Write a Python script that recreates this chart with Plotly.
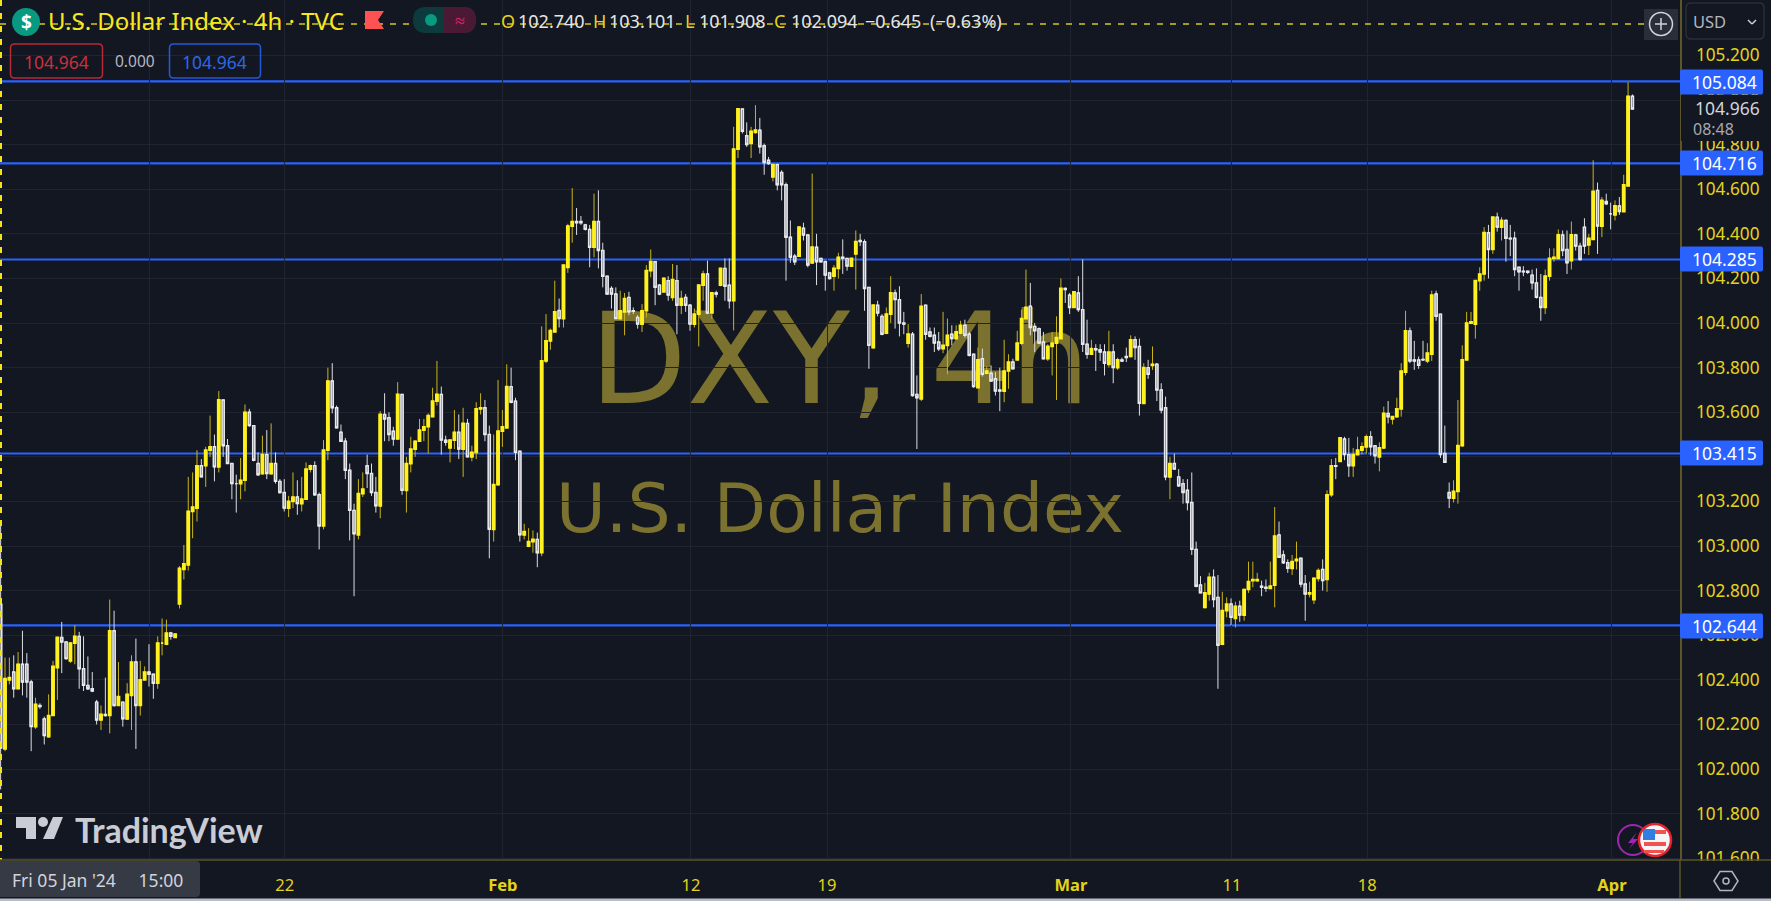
import plotly.graph_objects as go

open_ = [102.74,
102.09,102.40,102.435,102.36,102.47,102.47,102.39,102.19,102.285,102.225,
102.145,102.24,102.455,102.59,102.57,102.485,102.565,102.595,102.45,102.375,
102.36,102.30,102.22,102.245,102.24,102.62,102.285,102.30,102.225,102.33,
102.48,102.285,102.40,102.435,102.425,102.385,102.565,102.56,102.61,102.59,
102.74,102.895,102.915,103.155,103.17,103.36,103.36,103.43,103.445,103.355,
103.655,103.45,103.37,103.28,103.28,103.295,103.60,103.54,103.37,103.325,
103.41,103.325,103.37,103.29,103.24,103.17,103.20,103.22,103.19,103.21,
103.345,103.36,103.23,103.09,103.43,103.74,103.62,103.51,103.47,103.34,
103.16,103.05,103.235,103.36,103.325,103.24,103.18,103.59,103.575,103.515,
103.48,103.68,103.25,103.37,103.435,103.47,103.52,103.535,103.58,103.65,
103.68,103.475,103.44,103.475,103.51,103.435,103.55,103.40,103.42,103.615,
103.62,103.50,103.075,103.275,103.515,103.53,103.715,103.65,103.425,103.05,
103.0,103.02,103.03,102.97,103.83,103.92,103.96,104.056,104.02,104.25,
104.435,104.455,104.455,104.44,104.42,104.34,104.455,104.325,104.21,104.155,
104.13,104.02,104.05,104.115,104.055,104.025,103.995,104.055,104.235,104.275,
104.17,104.14,104.19,104.115,104.19,104.08,104.115,104.08,103.995,104.04,
104.17,104.22,104.045,104.135,104.17,104.245,104.17,104.10,104.78,104.96,
104.84,104.805,104.855,104.865,104.795,104.73,104.655,104.71,104.675,104.62,
104.385,104.30,104.30,104.425,104.395,104.27,104.34,104.29,104.275,104.225,
104.21,104.245,104.295,104.29,104.255,104.31,104.37,104.365,104.16,103.89,
104.08,104.03,103.955,104.04,104.135,104.105,104.0,103.91,103.95,103.68,
103.66,104.08,103.96,103.945,103.915,103.885,103.90,103.95,103.93,103.955,
103.99,103.95,103.86,103.71,103.84,103.775,103.775,103.75,103.70,103.695,
103.785,103.825,103.835,103.91,104.02,104.075,103.985,103.975,103.915,103.84,
103.895,103.91,103.93,104.155,104.125,104.07,104.135,104.06,103.905,103.86,
103.885,103.88,103.87,103.815,103.87,103.80,103.835,103.85,103.85,103.925,
103.895,103.64,103.80,103.81,103.815,103.70,103.62,103.31,103.37,103.31,
103.28,103.25,103.195,102.985,102.825,102.725,102.785,102.86,102.77,102.56,
102.71,102.74,102.675,102.73,102.69,102.805,102.845,102.845,102.82,102.815,
102.81,102.825,103.05,102.96,102.925,102.90,102.935,102.945,102.83,102.785,
102.76,102.855,102.895,102.85,103.23,103.36,103.38,103.48,103.41,103.36,
103.41,103.43,103.445,103.49,103.45,103.40,103.44,103.595,103.57,103.58,
103.615,103.78,103.965,103.835,103.835,103.837,103.83,103.86,104.13,104.04,
103.415,103.24,103.215,103.245,103.45,103.835,104.0,103.995,104.19,104.22,
104.405,104.33,104.475,104.43,104.46,104.38,104.38,104.25,104.232,104.232,
104.215,104.18,104.115,104.07,104.21,104.29,104.29,104.395,104.33,104.28,
104.395,104.345,104.43,104.35,104.375,104.595,104.435,104.545,104.49,104.485,
104.525,104.50,104.615,105.017]

high_ = [103.101,
102.50,102.50,102.51,102.525,102.62,102.52,102.40,102.32,102.295,102.235,
102.335,102.485,102.59,102.66,102.57,102.57,102.645,102.615,102.595,102.505,
102.435,102.31,102.285,102.41,102.76,102.71,102.48,102.30,102.385,102.51,
102.585,102.485,102.46,102.56,102.425,102.595,102.675,102.67,102.615,102.61,
102.91,103.005,103.31,103.33,103.43,103.39,103.445,103.585,103.50,103.695,
103.655,103.48,103.37,103.32,103.395,103.635,103.615,103.54,103.42,103.495,
103.52,103.55,103.42,103.30,103.30,103.225,103.33,103.295,103.31,103.375,
103.365,103.38,103.24,103.475,103.80,103.82,103.63,103.545,103.485,103.37,
103.19,103.30,103.33,103.41,103.37,103.31,103.605,103.685,103.60,103.535,
103.735,103.68,103.40,103.49,103.475,103.57,103.57,103.595,103.71,103.83,
103.715,103.495,103.48,103.61,103.59,103.62,103.57,103.45,103.645,103.685,
103.655,103.54,103.50,103.745,103.61,103.815,103.80,103.665,103.425,103.10,
103.08,103.07,103.06,103.985,104.04,103.975,104.19,104.11,104.26,104.445,
104.605,104.516,104.48,104.445,104.44,104.58,104.595,104.36,104.21,104.165,
104.16,104.145,104.135,104.14,104.07,104.035,104.085,104.26,104.33,104.275,
104.175,104.205,104.21,104.265,104.26,104.145,104.13,104.085,104.065,104.175,
104.235,104.28,104.14,104.145,104.245,104.29,104.29,104.88,104.96,104.96,
104.90,104.88,104.977,104.92,104.805,104.745,104.71,104.715,104.685,104.63,
104.46,104.31,104.435,104.45,104.395,104.67,104.40,104.29,104.28,104.23,
104.26,104.315,104.375,104.29,104.29,104.415,104.40,104.375,104.16,104.08,
104.10,104.04,104.07,104.21,104.15,104.165,104.05,103.995,103.96,103.765,
104.13,104.08,103.98,103.98,103.96,104.05,104.02,103.99,103.99,104.01,
104.015,103.96,103.86,103.89,103.885,103.805,103.81,103.78,103.80,103.925,
103.86,103.84,103.965,104.06,104.24,104.18,104.0,103.98,103.96,103.905,
103.96,104.03,104.2,104.16,104.135,104.14,104.21,104.285,104.015,103.925,
103.905,103.905,103.905,103.965,103.905,103.845,103.845,103.89,103.945,103.94,
103.93,103.82,103.835,103.895,103.82,103.73,103.67,103.40,103.415,103.345,
103.30,103.30,103.33,103.02,102.865,102.835,102.88,102.895,102.87,102.795,
102.77,102.765,102.75,102.755,102.81,102.93,102.93,102.88,102.845,102.85,
102.93,103.175,103.11,102.98,102.94,102.96,103.02,102.945,102.87,102.84,
102.86,102.90,102.94,103.25,103.39,103.395,103.485,103.49,103.485,103.44,
103.49,103.465,103.50,103.515,103.45,103.465,103.625,103.65,103.58,103.665,
103.82,104.055,103.98,103.92,103.85,103.92,103.91,104.145,104.145,104.04,
103.54,103.285,103.295,103.655,103.90,104.05,104.05,104.19,104.25,104.43,
104.44,104.475,104.495,104.475,104.465,104.44,104.41,104.25,104.255,104.235,
104.24,104.245,104.22,104.24,104.335,104.335,104.42,104.415,104.415,104.455,
104.40,104.36,104.47,104.40,104.73,104.63,104.565,104.58,104.54,104.55,
104.565,104.665,105.08,105.025]

low_ = [101.908,
102.08,102.38,102.32,102.36,102.33,102.32,102.08,102.18,102.27,102.11,
102.14,102.24,102.31,102.43,102.49,102.476,102.47,102.36,102.35,102.355,
102.345,102.20,102.175,102.235,102.16,102.28,102.285,102.19,102.22,102.175,
102.09,102.24,102.40,102.37,102.315,102.36,102.51,102.555,102.58,102.59,
102.72,102.85,102.89,103.035,103.11,103.31,103.265,103.40,103.29,103.33,
103.40,103.37,103.21,103.15,103.21,103.245,103.535,103.38,103.315,103.32,
103.30,103.32,103.28,103.235,103.155,103.13,103.17,103.14,103.155,103.21,
103.33,103.225,102.985,103.075,103.385,103.595,103.53,103.47,103.30,103.025,
102.775,103.03,103.22,103.26,103.225,103.15,103.125,103.47,103.47,103.45,
103.475,103.23,103.15,103.33,103.40,103.47,103.47,103.415,103.58,103.63,
103.41,103.45,103.375,103.435,103.39,103.31,103.40,103.38,103.39,103.59,
103.47,102.945,103.02,103.27,103.445,103.53,103.64,103.385,103.02,103.03,
102.995,102.97,102.905,102.955,103.82,103.88,103.96,103.98,103.98,104.225,
104.36,104.395,104.44,104.415,104.25,104.295,104.245,104.16,104.13,104.065,
104.02,104.015,103.945,104.035,104.04,103.975,103.96,104.025,104.205,104.08,
104.125,104.14,104.10,104.10,103.95,104.04,104.05,103.965,103.98,103.895,
104.10,104.04,104.02,104.115,104.165,104.10,104.065,103.967,104.74,104.85,
104.79,104.74,104.85,104.76,104.665,104.71,104.635,104.595,104.55,104.19,
104.27,104.26,104.30,104.37,104.25,104.265,104.17,104.27,104.145,104.195,
104.145,104.20,104.22,104.235,104.255,104.15,104.345,104.055,103.795,103.885,
104.03,103.945,103.95,104.00,103.975,103.94,103.95,103.89,103.67,103.435,
103.65,103.925,103.935,103.87,103.875,103.865,103.77,103.90,103.93,103.95,
103.935,103.85,103.71,103.71,103.76,103.77,103.74,103.675,103.605,103.645,
103.705,103.795,103.835,103.90,104.02,103.945,103.87,103.905,103.84,103.83,
103.765,103.655,103.93,104.09,104.04,104.07,104.05,103.87,103.84,103.86,
103.785,103.83,103.765,103.80,103.73,103.79,103.825,103.825,103.845,103.835,
103.585,103.64,103.75,103.79,103.65,103.595,103.295,103.21,103.345,103.265,
103.19,103.16,102.96,102.815,102.79,102.72,102.755,102.725,102.36,102.555,
102.68,102.645,102.635,102.66,102.665,102.79,102.815,102.84,102.775,102.795,
102.81,102.725,102.948,102.92,102.88,102.87,102.895,102.815,102.665,102.77,
102.74,102.84,102.80,102.795,103.22,103.30,103.38,103.385,103.31,103.31,
103.41,103.41,103.415,103.405,103.37,103.335,103.435,103.55,103.545,103.575,
103.58,103.765,103.82,103.79,103.795,103.83,103.82,103.83,104.01,103.395,
103.375,103.17,103.195,103.19,103.445,103.835,103.995,103.93,104.145,104.19,
104.20,104.31,104.41,104.37,104.275,104.30,104.21,104.145,104.21,104.22,
104.15,104.11,104.01,104.04,104.19,104.275,104.29,104.30,104.22,104.24,
104.325,104.28,104.31,104.305,104.375,104.31,104.385,104.53,104.42,104.46,
104.485,104.50,104.615,104.96]

close_ = [102.094,
102.405,102.41,102.36,102.47,102.39,102.39,102.19,102.29,102.28,102.15,
102.24,102.46,102.59,102.57,102.495,102.565,102.595,102.45,102.375,102.36,
102.35,102.22,102.245,102.24,102.62,102.285,102.325,102.225,102.335,102.48,
102.285,102.40,102.435,102.425,102.385,102.565,102.565,102.61,102.595,102.605,
102.90,102.92,103.155,103.175,103.36,103.31,103.43,103.445,103.355,103.655,
103.45,103.37,103.28,103.28,103.295,103.60,103.54,103.385,103.32,103.41,
103.325,103.37,103.29,103.24,103.17,103.20,103.22,103.19,103.21,103.345,
103.36,103.23,103.09,103.43,103.74,103.62,103.53,103.47,103.34,103.16,
103.055,103.235,103.255,103.325,103.24,103.18,103.59,103.57,103.50,103.48,
103.68,103.25,103.37,103.435,103.47,103.52,103.535,103.585,103.65,103.68,
103.475,103.465,103.475,103.51,103.435,103.55,103.40,103.42,103.615,103.62,
103.50,103.075,103.275,103.515,103.535,103.715,103.645,103.42,103.05,103.065,
103.02,103.03,102.97,103.83,103.92,103.966,104.05,104.02,104.26,104.435,
104.455,104.45,104.45,104.42,104.34,104.455,104.325,104.21,104.13,104.13,
104.02,104.055,104.11,104.05,104.053,103.995,104.055,104.235,104.275,104.16,
104.13,104.20,104.125,104.195,104.08,104.11,104.08,103.995,104.04,104.17,
104.22,104.045,104.135,104.13,104.245,104.165,104.10,104.78,104.96,104.86,
104.80,104.86,104.865,104.79,104.72,104.715,104.71,104.62,104.62,104.385,
104.295,104.275,104.43,104.395,104.26,104.34,104.275,104.275,104.215,104.20,
104.245,104.295,104.29,104.255,104.29,104.365,104.365,104.155,103.90,104.08,
104.045,103.95,104.04,104.135,104.105,104.0,103.995,103.95,103.675,103.665,
104.075,103.95,103.94,103.91,103.885,103.90,103.945,103.93,103.96,103.99,
103.945,103.855,103.715,103.835,103.77,103.785,103.74,103.695,103.695,103.785,
103.825,103.795,103.91,104.02,104.07,103.98,103.965,103.91,103.84,103.895,
103.91,103.935,104.155,104.15,104.07,104.14,104.06,103.905,103.86,103.885,
103.88,103.87,103.82,103.87,103.80,103.835,103.83,103.845,103.925,103.89,
103.64,103.80,103.77,103.815,103.70,103.61,103.31,103.37,103.345,103.27,
103.24,103.195,102.985,102.82,102.79,102.79,102.86,102.76,102.555,102.71,
102.74,102.68,102.73,102.69,102.805,102.84,102.85,102.85,102.815,102.81,
102.82,103.045,102.95,102.925,102.90,102.93,102.94,102.83,102.785,102.79,
102.855,102.89,102.845,103.23,103.36,103.358,103.485,103.41,103.36,103.41,
103.43,103.445,103.49,103.445,103.405,103.44,103.595,103.58,103.58,103.615,
103.785,103.965,103.83,103.83,103.81,103.835,103.865,104.125,104.03,103.41,
103.375,103.215,103.245,103.45,103.835,104.0,104.005,104.19,104.22,104.405,
104.33,104.475,104.43,104.46,104.38,104.378,104.24,104.23,104.23,104.227,
104.18,104.115,104.07,104.21,104.29,104.295,104.395,104.325,104.27,104.395,
104.345,104.285,104.345,104.38,104.59,104.435,104.55,104.535,104.49,104.525,
104.50,104.62,105.017,104.96]

assert len(open_) == len(high_) == len(low_) == len(close_)

bars = list(range(len(open_)))
level_values = [105.084, 104.716, 104.285, 103.415, 102.644]
price_ticks = [101.6 + 0.2 * k for k in range(19)]
date_tick_bars = [34.2, 65.1, 115.1, 158.2, 189.4, 245.3, 282.2, 313.2, 369.3]
date_tick_text = ["", "22", "<b>Feb</b>", "12", "19", "<b>Mar</b>", "11", "18", "<b>Apr</b>"]

W, H = 1771, 901
PANE_R, PANE_B = 1680, 860
BG = "#131722"
GRID = "#1f2430"
BLUE = "#2962ff"
YEL = "#e4d31c"
BRIGHT = "#fff01f"
WICK = "#c9b51a"
AXIS = "#5b5528"
FONT = "Noto Sans"

def px(x):
    return x / PANE_R
def py(y):
    return 1 - y / PANE_B

shapes, annos = [], []

def rect(x0, y0, x1, y1, fill, line=None, lw=0, layer="above"):
    shapes.append(dict(type="rect", xref="paper", yref="paper", x0=px(x0), x1=px(x1), y0=py(y0), y1=py(y1),
                       fillcolor=fill, line=dict(color=line or fill, width=lw), layer=layer))

def rrect(x0, y0, x1, y1, r, fill, line=None, lw=0):
    pts = (f"M {px(x0+r)},{py(y0)} L {px(x1-r)},{py(y0)} Q {px(x1)},{py(y0)} {px(x1)},{py(y0+r)} "
           f"L {px(x1)},{py(y1-r)} Q {px(x1)},{py(y1)} {px(x1-r)},{py(y1)} L {px(x0+r)},{py(y1)} "
           f"Q {px(x0)},{py(y1)} {px(x0)},{py(y1-r)} L {px(x0)},{py(y0+r)} Q {px(x0)},{py(y0)} {px(x0+r)},{py(y0)} Z")
    shapes.append(dict(type="path", xref="paper", yref="paper", path=pts, fillcolor=fill,
                       line=dict(color=line or fill, width=lw), layer="above"))

def poly(points, fill, line=None, lw=0):
    p = "M " + " L ".join(f"{px(x)},{py(y)}" for x, y in points) + " Z"
    shapes.append(dict(type="path", xref="paper", yref="paper", path=p, fillcolor=fill,
                       line=dict(color=line or fill, width=lw), layer="above"))

def circle(cx, cy, r, fill, line=None, lw=0):
    shapes.append(dict(type="circle", xref="paper", yref="paper", x0=px(cx-r), x1=px(cx+r), y0=py(cy+r), y1=py(cy-r),
                       fillcolor=fill, line=dict(color=line or fill, width=lw), layer="above"))

def seg(x0, y0, x1, y1, color, lw=1, dash="solid"):
    shapes.append(dict(type="line", xref="paper", yref="paper", x0=px(x0), x1=px(x1), y0=py(y0), y1=py(y1),
                       line=dict(color=color, width=lw, dash=dash), layer="above"))

def text(x, y, s, color, size, anchor="left", family=FONT):
    annos.append(dict(xref="paper", yref="paper", x=px(x), y=py(y), text=s, showarrow=False, xanchor=anchor,
                      yanchor="middle", font=dict(color=color, size=size, family=family), borderpad=0))

# watermark, behind the candles
for (x0, y0, x1, y1, s, size) in [(480, 265, 1200, 435, "DXY, 4h", 126), (480, 461, 1200, 546, "U.S. Dollar Index", 68)]:
    shapes.append(dict(type="rect", xref="paper", yref="paper", x0=px(x0), x1=px(x1), y0=py(y1), y1=py(y0),
                       fillcolor="rgba(0,0,0,0)", line=dict(width=0), layer="below",
                       label=dict(text=s, textposition="middle center",
                                  font=dict(color="#7b7230", size=size, family="DejaVu Sans"))))

# horizontal levels, behind the candles
for lv in level_values:
    shapes.append(dict(type="line", xref="paper", yref="y", x0=0, x1=1, y0=lv, y1=lv,
                       line=dict(color=BLUE, width=2.2), layer="below"))

# crosshair
seg(0, 24, 1644, 24, "#d8c61a", 1.5, "6px,7px")
seg(1, 0, 1, 860, "#f5e31a", 2, "6px,7px")

# header
circle(26, 22, 14, "#089981")
text(26, 22, "<b>$</b>", "#ffffff", 19, "center")
text(47, 21, "U.S. Dollar Index · 4h · TVC", "#f8e91e", 24)
poly([(365, 11), (384, 11), (378, 20), (384, 29), (365, 29)], "#ff5252")
rrect(413, 7, 476, 33, 13, "#0d3a3c")
rect(444, 7, 462, 33, "#4a1a35")
rrect(450, 7, 476, 33, 13, "#4a1a35")
circle(431, 20, 6, "#089981")
text(460, 20, "≈", "#e91e63", 18, "center")
for x, s, c in [(500, "O", YEL), (517, "102.740", "#e6e6e6"), (592, "H", YEL), (608, "103.101", "#e6e6e6"),
                (684, "L", YEL), (698, "101.908", "#e6e6e6"), (773, "C", YEL), (790, "102.094", "#e6e6e6"),
                (864, "−0.645", "#e6e6e6"), (929, "(−0.63%)", "#e6e6e6")]:
    text(x, 21, s, c, 18)

rrect(10.5, 44, 102.5, 78, 4, "rgba(0,0,0,0)", "#b72a35", 1.5)
text(56.5, 62, "104.964", "#c9303c", 17.5, "center")
text(135, 61, "0.000", "#b6b9c2", 15.5, "center")
rrect(169.5, 44, 260.5, 78, 4, "rgba(0,0,0,0)", "#2458d8", 1.5)
text(215, 62, "104.964", "#2f66e8", 17.5, "center")

# plus button and currency box
rect(1644, 9, 1678, 40, "#2a2e39")
circle(1661, 24, 11.5, "rgba(0,0,0,0)", "#d1d4dc", 1.5)
seg(1655, 24, 1667, 24, "#d1d4dc", 1.5)
seg(1661, 18, 1661, 30, "#d1d4dc", 1.5)
rrect(1686, 3, 1764, 39, 5, "rgba(0,0,0,0)", "#2a2e39", 1.5)
text(1692, 22, "USD", "#b2b5be", 16.5)
seg(1748, 20, 1752, 24, "#d1d4dc", 1.5)
seg(1752, 24, 1756, 20, "#d1d4dc", 1.5)

# last price block
rect(1681, 95, W, 141, BG)
text(1694, 108, "104.966", "#d1d4dc", 17.5)
text(1692, 129, "08:48", "#a6a9b2", 16)

# level tags
for lv, tag_y in zip(level_values, [82, 163, 259, 453, 626]):
    rrect(1680, tag_y - 12.5, 1763, tag_y + 12.5, 2, BLUE)
    text(1725, tag_y, f"{lv:.3f}", "#ffffff", 17.5, "center")

# clip of the bottom axis strip
rect(1681, 861, W, 898, BG)
seg(PANE_R, 860, PANE_R, 898, AXIS, 1.5)
seg(0, 860, W, 860, AXIS, 1.5)
rect(0, 898.5, W, 901, "#b9bdc6")

# time label
rrect(-6, 861, 200, 897, 4, "#363a45")
text(11, 880, "Fri 05 Jan '24&nbsp;&nbsp;&nbsp;&nbsp; 15:00", "#d1d4dc", 17.5)

# settings hexagon
poly([(1714, 881), (1720, 871.5), (1732, 871.5), (1738, 881), (1732, 890.5), (1720, 890.5)], "rgba(0,0,0,0)", "#b2b5be", 1.5)
circle(1726, 881, 3, "rgba(0,0,0,0)", "#b2b5be", 1.5)

# TradingView mark
poly([(16, 817), (36, 817), (36, 839), (26, 839), (26, 828), (16, 828)], "#c9ccd4")
circle(43, 822, 5, "#c9ccd4")
poly([(53, 817), (63, 817), (54, 839), (43, 839)], "#c9ccd4")
text(74, 829, "<b>TradingView</b>", "#c9ccd4", 34, family="Lato")

# event badges
circle(1633, 840, 15, "rgba(0,0,0,0)", "#9c27b0", 2)
poly([(1637, 832), (1628, 843), (1633, 843), (1629, 849), (1638, 839), (1633, 839)], "#9c27b0")
circle(1655, 840, 16, "#f5f5f7", "#e5222e", 2.5)
rect(1644, 842, 1666, 846, "#ef5350")
rect(1644, 850, 1664, 853, "#ef5350")
rect(1644, 830, 1666, 834, "#ef5350")
rect(1643, 829, 1655, 840, "#2f7fe0")

candles = go.Candlestick(
    x=bars, open=open_, high=high_, low=low_, close=close_, hoverinfo="skip", showlegend=False,
    whiskerwidth=0,
    increasing=dict(line=dict(color=WICK, width=1), fillcolor=BRIGHT),
    decreasing=dict(line=dict(color="#dcdde2", width=1), fillcolor="#7b7e88"),
)
bodies = go.Candlestick(
    x=bars, open=open_, close=close_,
    high=[max(a, b) for a, b in zip(open_, close_)],
    low=[min(a, b) for a, b in zip(open_, close_)],
    hoverinfo="skip", showlegend=False, whiskerwidth=0,
    increasing=dict(line=dict(color=BRIGHT, width=1.7), fillcolor=BRIGHT),
    decreasing=dict(line=dict(color="#e8e9ed", width=1.4), fillcolor="#7b7e88"),
)

fig = go.Figure([candles, bodies])
fig.update_layout(
    width=W, height=H, autosize=False, margin=dict(l=0, r=W - PANE_R, t=0, b=H - PANE_B, pad=0),
    paper_bgcolor=BG, plot_bgcolor=BG, font=dict(family=FONT, color=YEL), showlegend=False,
    shapes=shapes, annotations=annos, hovermode=False, dragmode=False,
    xaxis=dict(range=[-0.147, 384.9], tickmode="array", tickvals=date_tick_bars, ticktext=date_tick_text,
               showgrid=True, gridcolor=GRID, gridwidth=1, zeroline=False, showline=False,
               ticks="outside", ticklen=10, tickcolor="rgba(0,0,0,0)", tickangle=0,
               tickfont=dict(size=16.5, color=YEL, family=FONT), rangeslider=dict(visible=False)),
    yaxis=dict(range=[101.5921, 105.4486], side="right", tickmode="array", tickvals=price_ticks,
               ticktext=[f"{v:.3f}" for v in price_ticks], showgrid=True, gridcolor=GRID, gridwidth=1,
               zeroline=False, showline=True, linecolor=AXIS, linewidth=1.5, ticks="outside", ticklen=11,
               tickcolor="rgba(0,0,0,0)", tickfont=dict(size=17.2, color=YEL, family=FONT)),
)

fig.write_html("out.html", config=dict(displayModeBar=False, staticPlot=True),
               post_script="document.body.style.margin='0';document.body.style.background='#131722';document.body.style.overflow='hidden';")
